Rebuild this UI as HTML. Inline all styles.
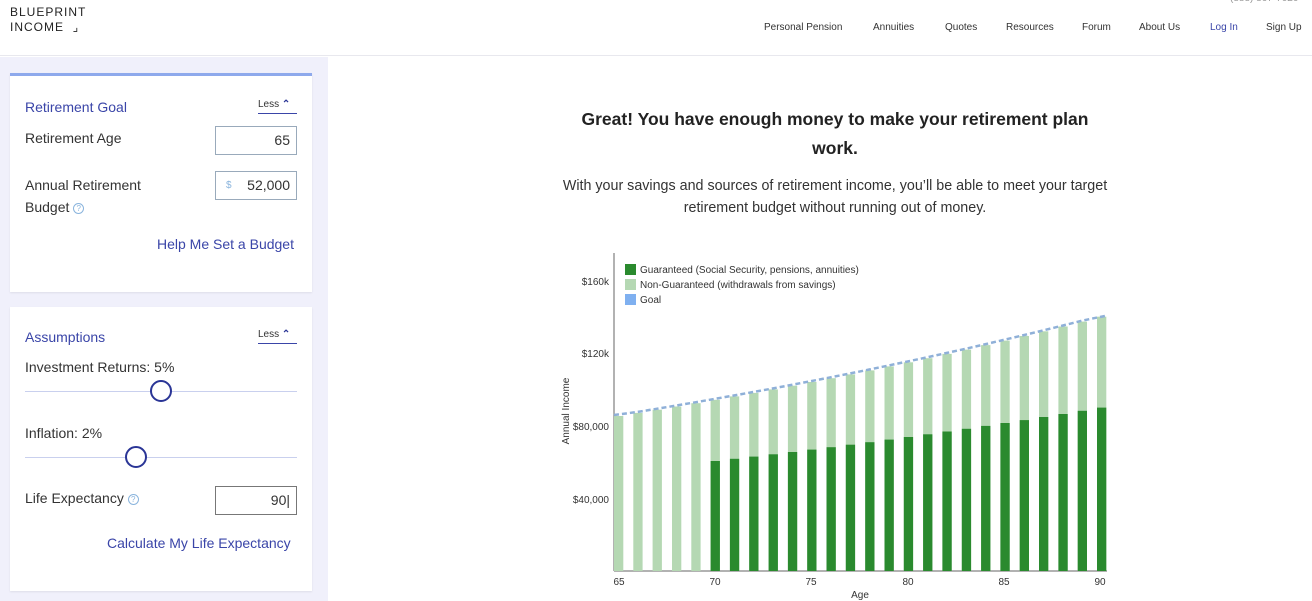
<!DOCTYPE html>
<html><head><meta charset="utf-8"><style>
*{margin:0;padding:0;box-sizing:border-box}
body{width:1312px;height:601px;overflow:hidden;background:#fff;font-family:"Liberation Sans",sans-serif;position:relative;color:#333}
.a{position:absolute;white-space:nowrap}
.nav{font-size:10px;color:#333;top:22px}
.side{left:0;top:57px;width:328px;height:544px;background:#f0f0fb}
.card{background:#fff;left:10px;width:302px;box-shadow:0 1px 2px rgba(0,0,0,.08)}
.h{color:#3a45a8;font-size:14px}
.l{color:#333;font-size:14px}
.box{border:1px solid #9ab;background:#fff;font-size:14px;text-align:right;padding-right:6px;line-height:27px;height:29px}
.less{font-size:10px;color:#333;border-bottom:1.5px solid #3a45a8;padding-bottom:3px;width:39px}
.q{display:inline-block;width:11px;height:11px;border:1px solid #8ab4dd;border-radius:50%;font-size:8px;color:#8ab4dd;text-align:center;line-height:9px;vertical-align:middle}
.track{height:1px;background:#c9d0ee;left:25px;width:272px}
.knob{width:22px;height:22px;border:2px solid #2a3596;border-radius:50%;background:#fff}
</style></head><body>
<div class="a" style="left:0;top:0;width:1312px;height:56px;border-bottom:1px solid #e8e8ee"></div>
<div class="a" style="left:10px;top:5px;font-size:12px;letter-spacing:1px;line-height:15px;color:#222">BLUEPRINT<br>INCOME &nbsp;⌟</div>
<div class="a" style="left:1230px;top:-7px;font-size:10px;color:#999">(888) 867-7020</div>
<div class="a nav" style="left:764px">Personal Pension</div>
<div class="a nav" style="left:873px">Annuities</div>
<div class="a nav" style="left:945px">Quotes</div>
<div class="a nav" style="left:1006px">Resources</div>
<div class="a nav" style="left:1082px">Forum</div>
<div class="a nav" style="left:1139px">About Us</div>
<div class="a nav" style="left:1210px;color:#3a45a8">Log In</div>
<div class="a nav" style="left:1266px">Sign Up</div>

<div class="a side"></div>
<div class="a card" style="top:73px;height:219px;border-top:3px solid #8ea9ec"></div>
<div class="a h" style="left:25px;top:99px">Retirement Goal</div>
<div class="a less" style="left:258px;top:99px">Less <b style="color:#2a3596">⌃</b></div>
<div class="a l" style="left:25px;top:130px">Retirement Age</div>
<div class="a box" style="left:215px;top:126px;width:82px">65</div>
<div class="a l" style="left:25px;top:174px;line-height:22px">Annual Retirement<br>Budget <span class="q">?</span></div>
<div class="a box" style="left:215px;top:171px;width:82px"><span style="color:#8ab4dd;font-size:10px;float:left;padding-left:10px">$</span>52,000</div>
<div class="a h" style="left:157px;top:236px">Help Me Set a Budget</div>

<div class="a card" style="top:307px;height:284px"></div>
<div class="a h" style="left:25px;top:329px">Assumptions</div>
<div class="a less" style="left:258px;top:329px">Less <b style="color:#2a3596">⌃</b></div>
<div class="a l" style="left:25px;top:359px">Investment Returns: 5%</div>
<div class="a track" style="top:391px"></div>
<div class="a knob" style="left:150px;top:380px"></div>
<div class="a l" style="left:25px;top:425px">Inflation: 2%</div>
<div class="a track" style="top:457px"></div>
<div class="a knob" style="left:125px;top:446px"></div>
<div class="a l" style="left:25px;top:490px">Life Expectancy <span class="q">?</span></div>
<div class="a box" style="left:215px;top:486px;width:82px;border-color:#777">90|</div>
<div class="a h" style="left:107px;top:535px">Calculate My Life Expectancy</div>

<div class="a" style="left:568px;width:534px;top:105px;text-align:center;font-size:17.5px;font-weight:bold;color:#222;line-height:29px;white-space:normal">Great! You have enough money to make your retirement plan work.</div>
<div class="a" style="left:553px;width:564px;top:175px;text-align:center;font-size:14.3px;color:#333;line-height:22px;white-space:normal">With your savings and sources of retirement income, you’ll be able to meet your target retirement budget without running out of money.</div>

<svg class="a" style="left:0;top:0" width="1312" height="601" font-family="Liberation Sans, sans-serif">
<line x1="614" y1="253" x2="614" y2="571" stroke="#666" stroke-width="1"/>
<line x1="614" y1="571" x2="1107" y2="571" stroke="#666" stroke-width="1"/>
<g font-size="10" fill="#333" text-anchor="end">
<text x="609" y="285">$160k</text><text x="609" y="357">$120k</text><text x="609" y="430">$80,000</text><text x="609" y="503">$40,000</text></g>
<g font-size="10" fill="#333" text-anchor="middle">
<text x="619" y="585">65</text><text x="715" y="585">70</text><text x="811" y="585">75</text><text x="908" y="585">80</text><text x="1004" y="585">85</text><text x="1100" y="585">90</text>
<text x="860" y="598">Age</text></g>
<text transform="translate(569,411) rotate(-90)" font-size="10" fill="#333" text-anchor="middle">Annual Income</text>
<rect x="625" y="264" width="11" height="11" fill="#2a8a2e"/><text x="640" y="273" font-size="10" fill="#333">Guaranteed (Social Security, pensions, annuities)</text>
<rect x="625" y="279" width="11" height="11" fill="#b5d8b3"/><text x="640" y="288" font-size="10" fill="#333">Non-Guaranteed (withdrawals from savings)</text>
<rect x="625" y="294" width="11" height="11" fill="#7fb0f0"/><text x="640" y="303" font-size="10" fill="#333">Goal</text>
<g id="bars"></g>
<polyline id="goal" fill="none" stroke="#8fb0d8" stroke-width="2.5" stroke-dasharray="5,3"/>
</svg>
<script>
var g=document.getElementById('bars'),pts=[],s='';
for(var i=0;i<=25;i++){var x=614+i*19.32,t=85.3*Math.pow(1.02,i),yt=571-t*1.8175;
s+='<rect x="'+x.toFixed(1)+'" y="'+yt.toFixed(1)+'" width="9.3" height="'+(571-yt).toFixed(1)+'" fill="#b5d8b3"/>';
if(i>=5){var gv=60.5*Math.pow(1.02,i-5),yg=571-gv*1.8175;s+='<rect x="'+x.toFixed(1)+'" y="'+yg.toFixed(1)+'" width="9.3" height="'+(571-yg).toFixed(1)+'" fill="#2a8a2e"/>';}
pts.push((i==0?614:x+4.6).toFixed(1)+','+(yt-1).toFixed(1));}
pts[pts.length-1]=(614+25*19.32+9.3).toFixed(1)+','+(571-85.3*Math.pow(1.02,25)*1.8175-1).toFixed(1);
g.innerHTML=s;document.getElementById('goal').setAttribute('points',pts.join(' '));
</script>
</body></html>
